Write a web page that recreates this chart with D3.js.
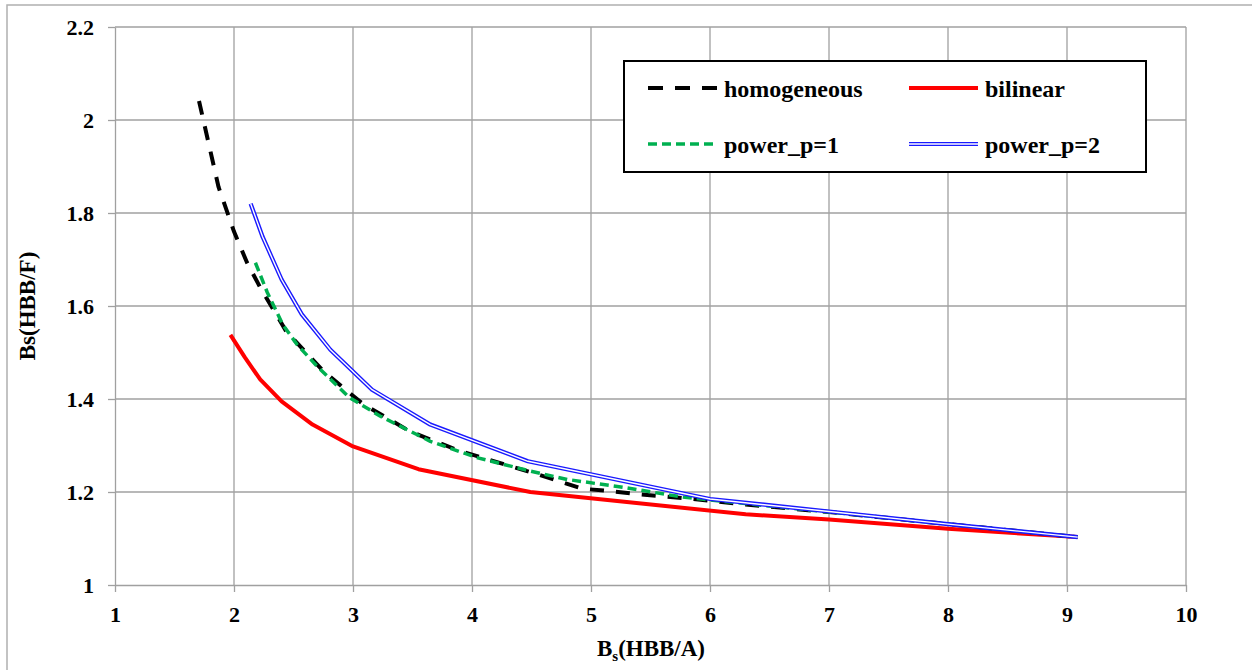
<!DOCTYPE html>
<html>
<head>
<meta charset="utf-8">
<script src="https://cdn.jsdelivr.net/npm/d3@7"></script>
<style>
  body { margin: 0; background: #fff; }
</style>
</head>
<body>
<svg id="chart"></svg>
<script>
const svgWidth = 1252;
const svgHeight = 670;

// data
const homX = [1.706, 1.87, 2.0, 2.11, 2.22, 2.44, 2.75, 3.08, 3.48, 3.9, 4.5, 4.93, 5.16, 5.41, 5.86, 6.3, 7.0, 8.0, 9.09];
const homY = [2.041, 1.856, 1.76, 1.693, 1.64, 1.545, 1.46, 1.39, 1.33, 1.288, 1.242, 1.207, 1.202, 1.195, 1.185, 1.173, 1.157, 1.131, 1.103];
const bilX = [1.97, 2.09, 2.22, 2.40, 2.66, 3.0, 3.55, 4.49, 6.3, 7.0, 8.0, 9.09];
const bilY = [1.538, 1.49, 1.442, 1.395, 1.345, 1.298, 1.249, 1.2, 1.152, 1.141, 1.121, 1.103];
const p1X = [2.18, 2.28, 2.41, 2.53, 2.70, 2.97, 3.23, 3.65, 4.04, 4.49, 4.8, 5.27, 5.77, 6.34, 7.0, 8.0, 9.09];
const p1Y = [1.693, 1.629, 1.56, 1.517, 1.47, 1.403, 1.363, 1.309, 1.274, 1.245, 1.227, 1.21, 1.189, 1.174, 1.157, 1.131, 1.103];
const p2X = [2.14, 2.24, 2.40, 2.57, 2.81, 3.16, 3.65, 4.47, 6.0, 7.0, 8.0, 9.09];
const p2Y = [1.82, 1.749, 1.657, 1.582, 1.506, 1.42, 1.345, 1.266, 1.185, 1.158, 1.131, 1.103];

const xTicks = [1, 2, 3, 4, 5, 6, 7, 8, 9, 10];
const yTicks = [1, 1.2, 1.4, 1.6, 1.8, 2, 2.2];
const seriesNames = ["homogeneous", "bilinear", "power_p=1", "power_p=2"];

const margin = {left: 115, right: 66, top: 27, bottom: 85};
const FONT = '"Liberation Serif"';

let svg = d3.select('#chart')
  .attr('width', svgWidth)
  .attr('height', svgHeight);

const setFont = (sel, size) => sel
  .style('font-family', FONT)
  .style('font-weight', 'bold')
  .style('font-size', size + 'px')
  .attr('fill', '#000');

// outer chart border
svg.append('rect')
  .attr('x', 7).attr('y', 5)
  .attr('width', svgWidth).attr('height', svgHeight)
  .attr('fill', 'none')
  .attr('stroke', '#b0b0b0')
  .attr('stroke-width', 1.5);

let x = d3.scaleLinear().domain([1, 10]).range([margin.left, svgWidth - margin.right]);
let y = d3.scaleLinear().domain([1, 2.2]).range([svgHeight - margin.bottom, margin.top]);

// gridlines
svg.append('g').selectAll('line')
  .data(xTicks.slice(1))
  .join('line')
  .attr('x1', d => x(d)).attr('x2', d => x(d))
  .attr('y1', y(1)).attr('y2', y(2.2))
  .attr('stroke', '#a0a0a0').attr('stroke-width', 1.3);

svg.append('g').selectAll('line')
  .data(yTicks.slice(1))
  .join('line')
  .attr('x1', x(1)).attr('x2', x(10))
  .attr('y1', d => y(d)).attr('y2', d => y(d))
  .attr('stroke', '#a0a0a0').attr('stroke-width', 1.3);

// axes
let xAxis = svg.append('g')
  .attr('transform', `translate(0,${y(1)})`)
  .call(d3.axisBottom(x).tickValues(xTicks).tickSize(7).tickPadding(14).tickFormat(d3.format('d')).tickSizeOuter(0));
let yAxis = svg.append('g')
  .attr('transform', `translate(${x(1)},0)`)
  .call(d3.axisLeft(y).tickValues(yTicks).tickSize(7).tickPadding(14).tickFormat(d => String(+d.toFixed(1))).tickSizeOuter(0));

[xAxis, yAxis].forEach(a => {
  a.attr('font-family', null).attr('font-size', null);
  a.select('.domain').attr('stroke', '#a0a0a0').attr('stroke-width', 1.3);
  a.selectAll('.tick line').attr('stroke', '#a0a0a0').attr('stroke-width', 1.3);
  setFont(a.selectAll('.tick text'), 22);
});

// axis titles
let xt = setFont(svg.append('text'), 23)
  .attr('x', 651).attr('y', 656)
  .attr('text-anchor', 'middle');
xt.append('tspan').text('B');
xt.append('tspan').attr('dy', 5).style('font-size', '15px').text('s');
xt.append('tspan').attr('dy', -5).text('(HBB/A)');

setFont(svg.append('text'), 23)
  .attr('transform', `translate(35,${y(1.6)}) rotate(-90)`)
  .attr('text-anchor', 'middle')
  .text('Bs(HBB/F)');

// lines
const line = d3.line().x(d => x(d[0])).y(d => y(d[1]));
const zipXY = (xs, ys) => xs.map((v, i) => [v, ys[i]]);

const plotG = svg.append('g');

function drawSeries(g, pts, style) {
  if (style.double) {
    g.append('path').attr('d', line(pts)).attr('fill', 'none')
      .attr('stroke', '#1a1aff').attr('stroke-width', 4.2).attr('stroke-linejoin', 'round');
    g.append('path').attr('d', line(pts)).attr('fill', 'none')
      .attr('stroke', '#fff').attr('stroke-width', 1.4).attr('stroke-linejoin', 'round');
  } else {
    g.append('path').attr('d', line(pts)).attr('fill', 'none')
      .attr('stroke', style.color).attr('stroke-width', style.width)
      .attr('stroke-dasharray', style.dash)
      .attr('stroke-linejoin', 'round');
  }
}

const styles = [
  {color: '#000', width: 4, dash: '14,12'},
  {color: '#ff0000', width: 4, dash: null},
  {color: '#00b050', width: 3.5, dash: '9,5'},
  {double: true}
];

drawSeries(plotG, zipXY(bilX, bilY), styles[1]);
drawSeries(plotG, zipXY(homX, homY), styles[0]);
drawSeries(plotG, zipXY(p1X, p1Y), styles[2]);
drawSeries(plotG, zipXY(p2X, p2Y), styles[3]);

// legend
let legend = svg.append('g');
legend.append('rect')
  .attr('x', 624).attr('y', 61)
  .attr('width', 522).attr('height', 111)
  .attr('fill', '#fff')
  .attr('stroke', '#000').attr('stroke-width', 2);

const legPos = [[648, 88], [909, 88], [648, 144], [909, 144]];
seriesNames.forEach((name, i) => {
  let [lx, ly] = legPos[i];
  let lg = legend.append('g');
  let st = styles[i];
  if (st.double) {
    lg.append('line').attr('x1', lx).attr('x2', lx + 69).attr('y1', ly).attr('y2', ly)
      .attr('stroke', '#1a1aff').attr('stroke-width', 4.2);
    lg.append('line').attr('x1', lx).attr('x2', lx + 69).attr('y1', ly).attr('y2', ly)
      .attr('stroke', '#fff').attr('stroke-width', 1.4);
  } else {
    lg.append('line').attr('x1', lx).attr('x2', lx + 69).attr('y1', ly).attr('y2', ly)
      .attr('stroke', st.color).attr('stroke-width', st.width)
      .attr('stroke-dasharray', i === 0 ? '15,12' : (i === 2 ? '9,5' : null));
  }
  setFont(lg.append('text'), 24)
    .attr('x', lx + 76).attr('y', ly + 9)
    .text(name);
});
</script>
</body>
</html>
